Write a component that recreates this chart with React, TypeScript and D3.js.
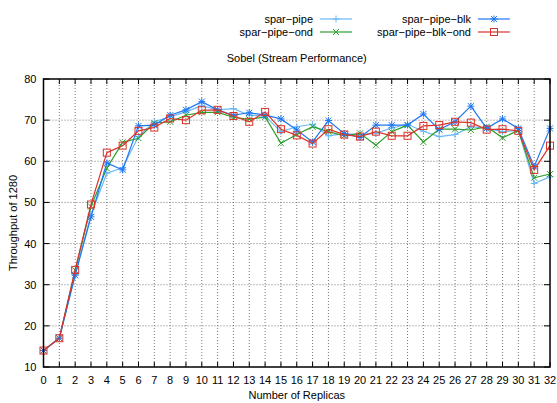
import { useEffect, useRef } from "react"
import * as d3 from "d3"

const replicas = d3.range(0, 33)

const sparPipe = [14, 17, 32.5, 47, 57.1, 58.4, 66, 69.6, 70.8, 72, 73.5, 72.5, 72.8, 71.2, 71, 67.2, 68.4, 69, 66.2, 66.7, 66.5, 66.8, 68.1, 69, 67.3, 66, 66.5, 68.4, 68, 67.2, 67.5, 54.6, 56.2]
const sparPipeOnd = [14, 17, 33.5, 49, 58.3, 64.6, 65.6, 69.3, 69.6, 71.2, 71.9, 71.9, 70.7, 70.2, 70.8, 64.4, 66.5, 68.4, 67.2, 66.2, 66.8, 63.9, 67.2, 68.8, 64.7, 67.8, 67.8, 67.6, 68.4, 65.7, 67.5, 56, 56.9]
const sparPipeBlk = [14, 17, 32.3, 46.5, 59.6, 57.9, 68.6, 68.8, 71.2, 72.5, 74.5, 72.5, 71.2, 71.8, 71.2, 70.3, 67.6, 64.7, 69.9, 66.7, 65.8, 68.8, 68.8, 68.8, 71.5, 67.7, 69.6, 73.4, 68, 70.3, 68, 58.7, 68]
const sparPipeBlkOnd = [14, 17, 33.6, 49.5, 62.1, 63.8, 67.4, 68.2, 70.4, 70, 72.4, 72.5, 71, 69.6, 72, 67.8, 66.3, 64.3, 67.8, 66.5, 66, 67.2, 66.2, 66.2, 68.6, 68.8, 69.6, 69.4, 67.7, 67.8, 67.4, 57.9, 63.8]

const yTicks = [10, 20, 30, 40, 50, 60, 70, 80]

type Series = { name: string; values: number[]; color: string; marker: string }

const series: Series[] = [
  { name: "spar\u2212pipe", values: sparPipe, color: "#6ab8f7", marker: "plus" },
  { name: "spar\u2212pipe\u2212ond", values: sparPipeOnd, color: "#2ca02c", marker: "cross" },
  { name: "spar\u2212pipe\u2212blk", values: sparPipeBlk, color: "#1f77f4", marker: "star" },
  { name: "spar\u2212pipe\u2212blk\u2212ond", values: sparPipeBlkOnd, color: "#d8332a", marker: "square" },
]

const W = 557
const H = 403
const font = "Liberation Sans, Arial, sans-serif"

function drawMarker(g: d3.Selection<SVGGElement, unknown, null, undefined>, kind: string, x: number, y: number, color: string) {
  const s = 3.5
  if (kind === "plus") {
    g.append("path").attr("d", `M${x - s},${y}H${x + s}M${x},${y - s}V${y + s}`).attr("stroke", color).attr("stroke-width", 1).attr("fill", "none")
  } else if (kind === "cross") {
    g.append("path").attr("d", `M${x - 3},${y - 3}L${x + 3},${y + 3}M${x - 3},${y + 3}L${x + 3},${y - 3}`).attr("stroke", color).attr("stroke-width", 1).attr("fill", "none")
  } else if (kind === "star") {
    g.append("path").attr("d", `M${x - s},${y}H${x + s}M${x},${y - s}V${y + s}M${x - 3},${y - 3}L${x + 3},${y + 3}M${x - 3},${y + 3}L${x + 3},${y - 3}`).attr("stroke", color).attr("stroke-width", 1).attr("fill", "none")
  } else {
    g.append("rect").attr("x", x - 3.5).attr("y", y - 3.5).attr("width", 7).attr("height", 7).attr("stroke", color).attr("stroke-width", 1).attr("fill", "none")
  }
}

export default function App() {
  const svgRef = useRef<SVGSVGElement>(null)

  useEffect(() => {
    if (!svgRef.current) return
    const svg = d3.select(svgRef.current)
    svg.selectAll("*").remove()

    const left = 43.5
    const right = 550
    const top = 79
    const bottom = 367

    const x = d3.scaleLinear().domain([0, 32]).range([left, right])
    const y = d3.scaleLinear().domain([10, 80]).range([bottom, top])

    const g = svg.append("g")

    // grid
    g.selectAll(".vgrid")
      .data(replicas.slice(1, -1))
      .enter()
      .append("line")
      .attr("x1", (d) => x(d))
      .attr("x2", (d) => x(d))
      .attr("y1", top)
      .attr("y2", bottom)
      .attr("stroke", "#555")
      .attr("stroke-width", 0.8)
      .attr("stroke-dasharray", "1,2")

    g.selectAll(".hgrid")
      .data(yTicks.slice(1, -1))
      .enter()
      .append("line")
      .attr("x1", left)
      .attr("x2", right)
      .attr("y1", (d) => y(d))
      .attr("y2", (d) => y(d))
      .attr("stroke", "#555")
      .attr("stroke-width", 0.8)
      .attr("stroke-dasharray", "1,2")

    // ticks (mirrored, inward)
    replicas.forEach((d) => {
      g.append("line").attr("x1", x(d)).attr("x2", x(d)).attr("y1", bottom).attr("y2", bottom - 5).attr("stroke", "#000")
      g.append("line").attr("x1", x(d)).attr("x2", x(d)).attr("y1", top).attr("y2", top + 5).attr("stroke", "#000")
    })
    yTicks.forEach((d) => {
      g.append("line").attr("x1", left).attr("x2", left + 6).attr("y1", y(d)).attr("y2", y(d)).attr("stroke", "#000")
      g.append("line").attr("x1", right).attr("x2", right - 6).attr("y1", y(d)).attr("y2", y(d)).attr("stroke", "#000")
    })

    // tick labels
    g.selectAll(".xl")
      .data(replicas)
      .enter()
      .append("text")
      .attr("x", (d) => x(d))
      .attr("y", bottom + 17)
      .attr("text-anchor", "middle")
      .style("font-family", font)
      .style("font-size", "11px")
      .text((d) => d)

    g.selectAll(".yl")
      .data(yTicks)
      .enter()
      .append("text")
      .attr("x", left - 7)
      .attr("y", (d) => y(d) + 4)
      .attr("text-anchor", "end")
      .style("font-family", font)
      .style("font-size", "11px")
      .text((d) => d)

    // lines + markers
    const line = d3
      .line<number>()
      .x((_, i) => x(replicas[i]))
      .y((d) => y(d))

    series.forEach((s) => {
      g.append("path").attr("d", line(s.values)).attr("fill", "none").attr("stroke", s.color).attr("stroke-width", 1.2)
      const mg = g.append("g")
      s.values.forEach((v, i) => drawMarker(mg, s.marker, x(replicas[i]), y(v), s.color))
    })

    // border
    g.append("rect")
      .attr("x", left)
      .attr("y", top)
      .attr("width", right - left)
      .attr("height", bottom - top)
      .attr("fill", "none")
      .attr("stroke", "#000")
      .attr("stroke-width", 1.5)

    // axis titles
    svg.append("text")
      .attr("x", (left + right) / 2)
      .attr("y", 62)
      .attr("text-anchor", "middle")
      .style("font-family", font)
      .style("font-size", "11px")
      .text("Sobel (Stream Performance)")

    svg.append("text")
      .attr("x", (left + right) / 2)
      .attr("y", 399)
      .attr("text-anchor", "middle")
      .style("font-family", font)
      .style("font-size", "11px")
      .text("Number of Replicas")

    svg.append("text")
      .attr("transform", `translate(17,${(top + bottom) / 2}) rotate(-90)`)
      .attr("text-anchor", "middle")
      .style("font-family", font)
      .style("font-size", "11px")
      .text("Throughput of 1280")

    // legend
    const legendPos = [
      { tx: 313, ly: 19 },
      { tx: 313, ly: 32 },
      { tx: 471, ly: 19 },
      { tx: 471, ly: 32 },
    ]
    series.forEach((s, i) => {
      const p = legendPos[i]
      svg.append("text")
        .attr("x", p.tx)
        .attr("y", p.ly + 4)
        .attr("text-anchor", "end")
        .style("font-family", font)
        .style("font-size", "11px")
        .text(s.name)
      svg.append("line").attr("x1", p.tx + 7).attr("x2", p.tx + 39).attr("y1", p.ly).attr("y2", p.ly).attr("stroke", s.color).attr("stroke-width", 1.2)
      drawMarker(svg.append("g"), s.marker, p.tx + 23, p.ly, s.color)
    })
  }, [])

  return (
    <svg ref={svgRef} width={W} height={H} style={{ position: "absolute", left: 0, top: 0, background: "#fff" }} />
  )
}
